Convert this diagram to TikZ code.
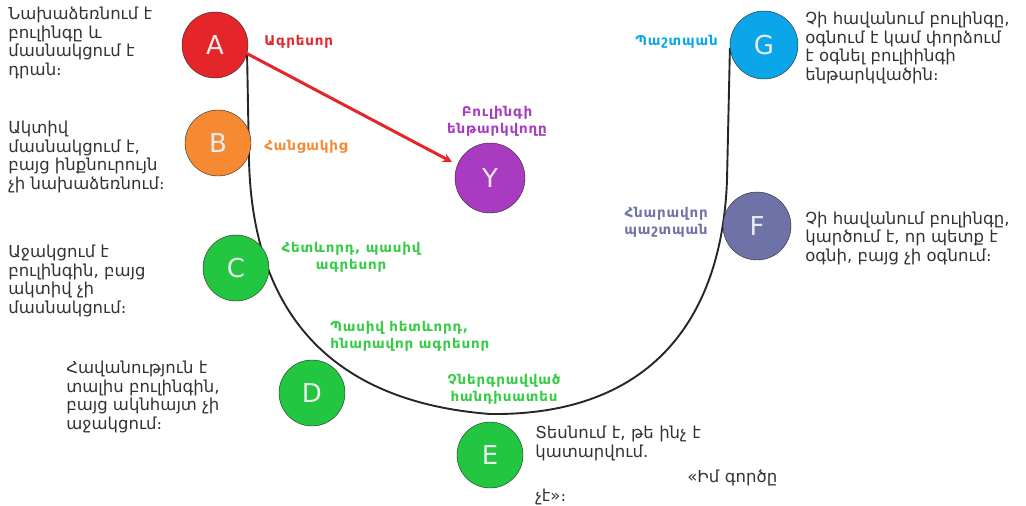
\documentclass[tikz,border=0pt]{standalone}
\usepackage{fontspec}
\usepackage{xcolor}
\setmainfont{DejaVu Sans}
\newfontfamily\tagfont[LetterSpace=6]{DejaVu Sans}
\usetikzlibrary{backgrounds}
\definecolor{agrred}{HTML}{E4262B}
\definecolor{accorange}{HTML}{F58A32}
\definecolor{folgreen}{HTML}{22C640}
\definecolor{taggreen}{HTML}{33CC44}
\definecolor{vicpurple}{HTML}{A83BC0}
\definecolor{defblue}{HTML}{0BA6E9}
\definecolor{posslate}{HTML}{6E72A6}
\tikzstyle{role} = [circle, draw=black!85, thin, minimum size=66pt, inner sep=0pt, text=white!92!black, font=\fontsize{26}{26}\selectfont]
\tikzstyle{tag} = [inner sep=0pt, font=\tagfont\bfseries\fontsize{13.5}{17}\selectfont]
\tikzstyle{desc} = [inner sep=0pt, align=left, text=black!80, font=\fontsize{16.5}{18.5}\selectfont]

\begin{document}
\begin{tikzpicture}[x=1pt,y=-1pt,>=stealth,semithick]
  \useasboundingbox (0,0) rectangle (1026,506);

  % circles
  \node[role, fill=agrred] (A) at (215,45) {A};
  \node[role, fill=accorange] (B) at (218,143) {B};
  \node[role, fill=folgreen] (C) at (236,268) {C};
  \node[role, fill=folgreen] (D) at (312,393) {D};
  \node[role, fill=folgreen] (E) at (490,455) {E};
  \node[role, fill=vicpurple, minimum size=70pt] (Y) at (490,178) {Y};
  \node[role, fill=posslate, minimum size=68pt] (F) at (757,226) {F};
  \node[role, fill=defblue, minimum size=68pt] (G) at (764,45) {G};

  % the U line
  \begin{scope}[on background layer]
    \draw[black!85, line width=1.9pt] (A.-15) -- (249,160)
      .. controls (252,290) and (310,400) .. (490,414)
      .. controls (650,416) and (722,320) .. (727,180) -- (G.185);
  \end{scope}

  \draw[->, agrred, line width=3pt, shorten >=6pt] (A.-15) -- (Y.158);

  % tags
  \node[tag, text=agrred, anchor=west] (tagA) at (264,42) {Ագրեսոր};
  \node[tag, text=accorange, anchor=west] (tagB) at (264,147) {Հանցակից};
  \node[tag, text=taggreen, align=center] (tagC) at (351,257) {Հետևորդ, պասիվ\\ագրեսոր};
  \node[tag, text=taggreen, align=left, anchor=west] (tagD) at (330,336) {Պասիվ հետևորդ,\\հնարավոր ագրեսոր};
  \node[tag, text=taggreen, align=center] (tagE) at (504,389) {Չներգրավված\\հանդիսատես};
  \node[tag, text=vicpurple, align=center] (tagY) at (497,121) {Բուլինգի\\ենթարկվողը};
  \node[tag, text=defblue, anchor=east] (tagG) at (718,42) {Պաշտպան};
  \node[tag, text=posslate, align=right, anchor=east] (tagF) at (708,222) {Հնարավոր\\պաշտպան};

  % descriptions
  \node[desc, anchor=west] (descA) at (8,43) {Նախաձեռնում է\\բուլինգը և\\մասնակցում է\\դրան։};
  \node[desc, anchor=west] (descB) at (8,157) {Ակտիվ\\մասնակցում է,\\բայց ինքնուրույն\\չի նախաձեռնում։};
  \node[desc, anchor=west] (descC) at (8,281) {Աջակցում է\\բուլինգին, բայց\\ակտիվ չի\\մասնակցում։};
  \node[desc, anchor=west] (descD) at (66,397) {Հավանություն է\\տալիս բուլինգին,\\բայց ակնհայտ չի\\աջակցում։};
  \node[desc, anchor=north west, text width=242pt] (descE) at (535,426) {Տեսնում է, թե ինչ է\\կատարվում.\\[7pt]\hspace*{\fill}«Իմ գործը\\չէ»։};
  \node[desc, anchor=west] (descF) at (805,238) {Չի հավանում բուլինգը,\\կարծում է, որ պետք է\\օգնի, բայց չի օգնում։};
  \node[desc, anchor=west] (descG) at (805,48) {Չի հավանում բուլինգը,\\օգնում է կամ փորձում\\է օգնել բուլիինգի\\ենթարկվածին։};
\end{tikzpicture}
\end{document}
